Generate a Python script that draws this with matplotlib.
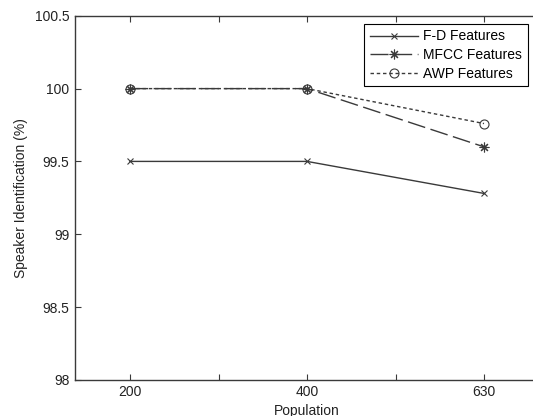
"""
Speaker identification accuracy vs population, MATLAB-style line chart
"""

import matplotlib

matplotlib.use("Agg")
import matplotlib.pyplot as plt

plt.rcParams["font.family"] = ["Liberation Sans", "DejaVu Sans"]

# === data ===
population = ["200", "400", "630"]
fd_features = [99.5, 99.5, 99.28]
mfcc_features = [100.0, 100.0, 99.6]
awp_features = [100.0, 100.0, 99.76]

AXIS_COLOR = "#3a3a3a"
LINE_COLOR = "#3a3a3a"
TEXT_COLOR = "#222222"
FS = 10


def draw():
    fig = plt.figure(figsize=(5.33, 4.16), dpi=100)
    ax = fig.add_axes([0.141, 0.087, 0.87, 0.875])

    xs = list(range(1, len(population) + 1))

    ax.plot(xs, fd_features, color=LINE_COLOR, lw=1.0, marker="x",
            markersize=4, markeredgewidth=0.8, label="F-D Features")
    ax.plot(xs, mfcc_features, color=LINE_COLOR, lw=1.0, marker=(8, 2, 0),
            markersize=7, markeredgewidth=0.8, dashes=(13, 4),
            label="MFCC Features")
    ax.plot(xs, awp_features, color=LINE_COLOR, lw=1.0, marker="o",
            markersize=6.5, markerfacecolor="none", markeredgewidth=0.8,
            dashes=(2.5, 2), label="AWP Features")

    # 坐标轴
    ax.set_xlim(0.69, 3.31)
    ax.set_ylim(98, 100.5)
    ax.set_xticks([1, 1.5, 2, 2.5, 3])
    ax.set_xticklabels([population[0], "", population[1], "", population[2]])
    ax.set_yticks([98, 98.5, 99, 99.5, 100, 100.5])
    ax.set_yticklabels(["98", "98.5", "99", "99.5", "100", "100.5"])
    ax.tick_params(direction="in", length=4, width=0.8, colors=AXIS_COLOR,
                   labelcolor=TEXT_COLOR, labelsize=FS, top=True, right=True,
                   pad=4)
    for sp in ax.spines.values():
        sp.set_color(AXIS_COLOR)
        sp.set_linewidth(1.0)

    ax.set_xlabel("Population", fontsize=FS, color=TEXT_COLOR, labelpad=3)
    ax.set_ylabel("Speaker Identification (%)", fontsize=FS, color=TEXT_COLOR,
                  labelpad=5)

    leg = ax.legend(loc="upper right", bbox_to_anchor=(0.976, 0.978),
                    fontsize=FS, fancybox=False, framealpha=1,
                    edgecolor="black", borderpad=0.4, labelspacing=0.33,
                    handlelength=3.5, handletextpad=0.35, borderaxespad=0)
    leg.get_frame().set_linewidth(0.8)

    return fig


if __name__ == "__main__":
    fig = draw()
    fig.savefig("out.png", dpi=100)
